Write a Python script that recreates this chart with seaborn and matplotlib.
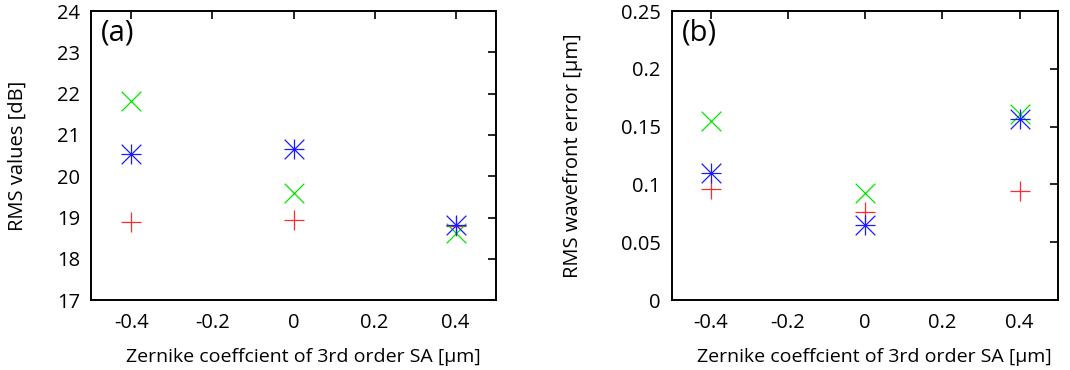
import matplotlib
matplotlib.use("Agg")
import matplotlib.pyplot as plt
from matplotlib.ticker import FuncFormatter, MultipleLocator
import seaborn as sns
import pandas as pd

# ---- data ----
zernike = [-0.4, 0.0, 0.4]
# panel (a): RMS values [dB]
a_red = [18.89, 18.95, 18.79]
a_green = [21.82, 19.59, 18.63]
a_blue = [20.53, 20.65, 18.82]
# panel (b): RMS wavefront error [um]
b_red = [0.096, 0.076, 0.094]
b_green = [0.155, 0.0925, 0.161]
b_blue = [0.110, 0.065, 0.157]

panel_labels = ["(a)", "(b)"]
ylabels = ["RMS values [dB]", "RMS wavefront error [μm]"]
xlabel = "Zernike coeffcient of 3rd order SA [μm]"

sns.set_theme(style="white")
plt.rcParams["font.family"] = ["Open Sans", "DejaVu Sans"]
plt.rcParams["axes.unicode_minus"] = False

fig = plt.figure(figsize=(10.7, 3.7), dpi=100)
axa = fig.add_axes([0.085, 0.189, 0.3786, 0.781])
axb = fig.add_axes([0.628, 0.189, 0.361, 0.781])

RED = "#ff2a2a"
GREEN = "#00e600"
BLUE = "#1a1aff"
S = 200
LW = 0.9

def draw(ax, red, green, blue):
    df = pd.DataFrame({"x": zernike, "red": red, "green": green, "blue": blue})
    sns.scatterplot(data=df, x="x", y="red", marker="+", s=S, color=RED,
                    linewidth=LW, ax=ax, zorder=3)
    sns.scatterplot(data=df, x="x", y="green", marker="x", s=S, color=GREEN,
                    linewidth=LW, ax=ax, zorder=3)
    sns.scatterplot(data=df, x="x", y="blue", marker="+", s=S, color=BLUE,
                    linewidth=LW, ax=ax, zorder=4)
    sns.scatterplot(data=df, x="x", y="blue", marker="x", s=S, color=BLUE,
                    linewidth=LW, ax=ax, zorder=4)

draw(axa, a_red, a_green, a_blue)
draw(axb, b_red, b_green, b_blue)

fmt = FuncFormatter(lambda v, p: "%g" % round(v, 6))
ylab_x = [-0.156, -0.231]
for ax, lab, yl, yx in zip([axa, axb], panel_labels, ylabels, ylab_x):
    ax.set_xlim(-0.5, 0.5)
    ax.xaxis.set_major_locator(MultipleLocator(0.2))
    ax.xaxis.set_major_formatter(fmt)
    ax.yaxis.set_major_formatter(fmt)
    ax.tick_params(direction="in", top=True, right=True, length=6, width=1.2,
                   color="black", labelsize=14.5, labelcolor="black", pad=8)
    ax.tick_params(axis="x", pad=9)
    for sp in ax.spines.values():
        sp.set_color("black")
        sp.set_linewidth(1.4)
    ax.set_xlabel(xlabel, fontsize=14, color="black")
    ax.set_ylabel(yl, fontsize=14.5, color="black")
    ax.xaxis.set_label_coords(0.525, -0.165)
    ax.yaxis.set_label_coords(yx, 0.5)
    ax.text(0.025, 0.975, lab, transform=ax.transAxes, fontsize=21,
            va="top", ha="left", color="black")

axa.set_ylim(17, 24)
axa.yaxis.set_major_locator(MultipleLocator(1))
axb.set_ylim(0, 0.25)
axb.yaxis.set_major_locator(MultipleLocator(0.05))

fig.savefig("out.png", dpi=100, facecolor="white")
